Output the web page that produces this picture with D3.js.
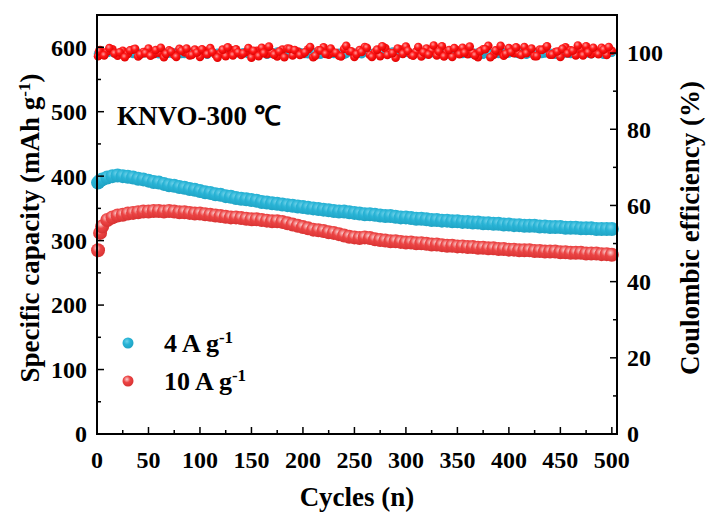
<script src='https://d3js.org/d3.v7.min.js'></script>
<body style="margin:0;background:#fff">
<script>
  // cycle numbers sampled from the record
  const cycles = [1, 3, 5, 10, 15, 20, 25, 30, 35, 40, 45, 50, 55, 60, 65, 70, 75, 80, 85, 90, 95, 100,
    105, 110, 115, 120, 125, 130, 135, 140, 145, 150, 155, 160, 165, 170, 175, 180, 185, 190, 195, 200,
    205, 210, 215, 220, 225, 230, 235, 240, 245, 250, 255, 260, 265, 270, 275, 280, 285, 290, 295, 300,
    305, 310, 315, 320, 325, 330, 335, 340, 345, 350, 355, 360, 365, 370, 375, 380, 385, 390, 395, 400,
    405, 410, 415, 420, 425, 430, 435, 440, 445, 450, 455, 460, 465, 470, 475, 480, 485, 490, 495, 500];
  // extra cycles used for the efficiency scatter
  const cyclesMid = [2, 7, 12, 17, 22, 27, 32, 37, 42, 47, 52, 57, 62, 67, 72, 77, 82, 87, 92, 97,
    102, 107, 112, 117, 122, 127, 132, 137, 142, 147, 152, 157, 162, 167, 172, 177, 182, 187, 192, 197,
    202, 207, 212, 217, 222, 227, 232, 237, 242, 247, 252, 257, 262, 267, 272, 277, 282, 287, 292, 297,
    302, 307, 312, 317, 322, 327, 332, 337, 342, 347, 352, 357, 362, 367, 372, 377, 382, 387, 392, 397,
    402, 407, 412, 417, 422, 427, 432, 437, 442, 447, 452, 457, 462, 467, 472, 477, 482, 487, 492, 497];

  // specific capacity, mAh g-1
  const cap4 = [390, 393, 395, 398, 400, 401, 400, 399, 398, 396, 395, 393, 391, 390, 388, 386, 385, 383, 382, 380, 379, 377,
    375, 374, 372, 371, 369, 368, 366, 365, 364, 363, 362, 360, 359, 358, 357, 356, 355, 354, 353, 352,
    351, 350, 349, 348, 347, 346, 345, 345, 344, 343, 342, 341, 341, 340, 339, 338, 338, 337, 336, 336,
    335, 334, 334, 333, 332, 332, 331, 331, 330, 330, 329, 329, 328, 328, 327, 327, 326, 326, 325, 325,
    324, 324, 323, 323, 323, 322, 322, 321, 321, 321, 320, 320, 320, 319, 319, 319, 318, 318, 318, 318];
  const cap10 = [285, 312, 322, 332, 336, 339, 340, 342, 343, 344, 345, 345, 346, 346, 345, 346, 345, 344, 344, 343, 342, 342,
    341, 340, 339, 338, 337, 336, 336, 335, 334, 333, 333, 332, 331, 330, 330, 329, 327, 325, 323, 321,
    319, 317, 316, 315, 313, 312, 310, 308, 306, 305, 304, 305, 304, 302, 301, 300, 299, 299, 298, 297,
    297, 296, 296, 295, 294, 294, 293, 292, 292, 291, 291, 290, 290, 289, 289, 288, 288, 287, 287, 286,
    286, 285, 285, 285, 284, 284, 283, 283, 283, 282, 282, 281, 281, 281, 280, 280, 280, 279, 279, 278];

  // coulombic efficiency, %
  const ce4 = [99.8, 100.2, 99.9, 100.1, 100.3, 99.7, 100.0, 100.2, 99.8, 100.1, 99.9, 100.3, 100.0, 99.7, 100.2, 99.9, 100.1, 100.4, 99.8, 100.0,
    100.2, 99.6, 100.1, 100.3, 99.9, 100.0, 99.7, 100.2, 100.1, 99.8, 100.3, 99.9, 100.0, 100.2, 99.6, 100.1, 100.4, 99.8, 100.0, 99.9,
    100.2, 100.1, 99.7, 100.3, 99.9, 100.0, 100.2, 99.8, 100.1, 99.6, 100.3, 100.0, 99.9, 100.2, 99.7, 100.1, 100.4, 99.8, 100.0, 100.2,
    99.9, 100.1, 99.6, 100.3, 100.0, 99.8, 100.2, 99.9, 100.1, 99.7, 100.4, 100.0, 99.8, 100.2, 99.9, 100.1, 99.6, 100.3, 100.0, 99.8,
    100.2, 99.9, 100.1, 99.7, 100.3, 100.0, 99.8, 100.2, 99.9, 100.1, 99.6, 100.4, 100.0, 99.8, 100.2, 99.9, 100.1, 99.7, 100.3, 100.0,
    99.8, 100.1];
  const ce10 = [99.2, 100.8, 99.6, 100.4, 101.0, 99.3, 100.6, 99.8, 100.9, 99.1, 100.3, 101.2, 99.7, 100.1, 98.9, 100.7, 99.5, 101.1, 100.2, 99.4,
    100.9, 99.0, 100.5, 101.3, 99.6, 100.0, 99.2, 100.8, 101.0, 99.5, 100.3, 98.8, 100.6, 101.4, 99.7, 100.2, 99.1, 100.9, 101.2, 99.4,
    100.4, 99.8, 101.0, 98.9, 100.7, 101.5, 99.6, 100.1, 99.3, 101.1, 100.5, 99.0, 100.8, 101.6, 99.5, 100.3, 99.2, 101.3, 100.0, 98.8,
    100.9, 101.7, 99.6, 100.4, 99.1, 101.2, 100.6, 99.4, 101.8, 100.2, 99.0, 100.7, 101.4, 99.7, 100.1, 98.9, 101.0, 101.9, 99.5, 100.5,
    99.3, 101.3, 100.0, 99.8, 101.6, 100.4, 99.2, 100.9, 101.2, 99.6, 100.3, 99.0, 101.5, 100.7, 99.4, 101.0, 101.8, 99.7, 100.2, 101.4,
    99.5, 100.6];
  const ce4Mid = [100.0, 99.8, 100.2, 99.9, 100.1, 99.7, 100.3, 100.0, 99.8, 100.2, 99.9, 100.1, 100.4, 99.7, 100.0, 100.2, 99.8, 100.1, 99.9, 100.3,
    100.0, 99.6, 100.2, 100.1, 99.8, 100.3, 99.9, 100.0, 100.2, 99.7, 100.1, 99.9, 100.4, 99.8, 100.0, 100.2, 99.7, 100.1, 99.9, 100.3,
    99.8, 100.0, 100.2, 99.6, 100.1, 100.3, 99.9, 100.0, 99.8, 100.2, 100.1, 99.7, 100.3, 100.0, 99.9, 100.2, 99.8, 100.4, 100.0, 99.9,
    100.2, 99.8, 100.1, 99.6, 100.3, 100.0, 99.9, 100.2, 99.7, 100.1, 100.0, 100.3, 99.8, 100.1, 99.9, 100.4, 99.7, 100.0, 100.2, 99.8,
    100.1, 99.9, 100.2, 99.6, 100.0, 100.3, 99.8, 100.1, 99.9, 100.2, 99.7, 100.0, 100.4, 99.8, 100.1, 99.9, 100.2, 100.0, 99.6, 100.3];
  const ce10Mid = [100.5, 99.4, 101.3, 99.9, 100.2, 98.9, 100.7, 101.1, 99.6, 100.0, 99.3, 100.8, 101.4, 99.8, 100.4, 99.0, 100.6, 101.2, 99.5, 100.1,
    101.0, 99.7, 100.3, 98.8, 100.9, 101.5, 99.4, 100.2, 99.9, 101.3, 100.6, 99.2, 100.0, 101.7, 99.6, 100.4, 98.9, 101.1, 100.8, 99.5,
    100.2, 101.6, 99.3, 100.7, 99.8, 101.2, 100.1, 99.1, 101.9, 100.5, 99.7, 100.3, 101.4, 99.0, 100.9, 101.8, 99.5, 100.0, 101.2, 99.8,
    100.6, 99.3, 101.6, 100.2, 99.6, 102.0, 100.4, 99.1, 100.8, 101.3, 99.7, 100.1, 101.7, 99.4, 100.5, 101.0, 98.9, 100.7, 101.9, 99.8,
    100.3, 101.5, 99.5, 100.0, 101.2, 99.2, 100.8, 101.8, 99.6, 100.4, 101.1, 99.9, 100.6, 102.0, 99.4, 100.2, 101.4, 99.7, 100.9, 101.6];

  const xTicks = [0, 50, 100, 150, 200, 250, 300, 350, 400, 450, 500];
  const capTicks = [0, 100, 200, 300, 400, 500, 600];
  const ceTicks = [0, 20, 40, 60, 80, 100];

  const width = 708, height = 519;
  const margin = {left: 97, top: 15, right: 91, bottom: 85};
  const font = "'Liberation Serif', 'Times New Roman', serif";

  const x = d3.scaleLinear().domain([0, 505]).range([margin.left, width - margin.right]);
  const yCap = d3.scaleLinear().domain([0, 650]).range([height - margin.bottom, margin.top]);
  const yCe = d3.scaleLinear().domain([0, 110]).range([height - margin.bottom, margin.top]);

  const svg = d3.select("body").append("svg")
    .attr("width", width)
    .attr("height", height)
    .style("font-family", font)
    .style("font-weight", "bold");

  const defs = svg.append("defs");
  function ball(id, light, main, dark) {
    const g = defs.append("radialGradient").attr("id", id)
      .attr("cx", "40%").attr("cy", "35%").attr("r", "65%");
    g.append("stop").attr("offset", "0%").attr("stop-color", light);
    g.append("stop").attr("offset", "45%").attr("stop-color", main);
    g.append("stop").attr("offset", "100%").attr("stop-color", dark);
  }
  ball("redCap", "#fbd0d0", "#ec4545", "#d83232");
  ball("redCe", "#ff9a9a", "#ff1a1a", "#e00000");
  ball("cyan", "#6fd2ea", "#29b4d6", "#1fa3c4");

  const plot = svg.append("g");
  const r = 4.3;

  function scatter(xs, ys, scale, rad, fill) {
    plot.append("g").selectAll("circle").data(xs).enter().append("circle")
      .attr("cx", d => x(d))
      .attr("cy", (d, i) => scale(ys[i]))
      .attr("r", rad)
      .attr("fill", fill);
  }
  // coulombic efficiency
  scatter(cycles, ce4, yCe, r, "url(#cyan)");
  scatter(cyclesMid, ce4Mid, yCe, r, "url(#cyan)");
  scatter(cycles, ce10, yCe, r, "url(#redCe)");
  scatter(cyclesMid, ce10Mid, yCe, r, "url(#redCe)");

  // capacity
  scatter(cycles, cap4, yCap, 7, "url(#cyan)");
  scatter(cycles, cap10, yCap, 7, "url(#redCap)");

  // frame
  svg.append("rect")
    .attr("x", margin.left).attr("y", margin.top)
    .attr("width", width - margin.left - margin.right)
    .attr("height", height - margin.top - margin.bottom)
    .attr("fill", "none").attr("stroke", "#000").attr("stroke-width", 2);

  const bottom = height - margin.bottom;
  const left = margin.left, right = width - margin.right;

  // x axis ticks (inward)
  const xMinor = d3.range(25, 505, 50);
  svg.selectAll(".xt").data(xTicks).enter().append("line")
    .attr("x1", d => x(d)).attr("x2", d => x(d))
    .attr("y1", bottom).attr("y2", bottom - 7)
    .attr("stroke", "#000").attr("stroke-width", 1.5);
  svg.selectAll(".xm").data(xMinor).enter().append("line")
    .attr("x1", d => x(d)).attr("x2", d => x(d))
    .attr("y1", bottom).attr("y2", bottom - 4)
    .attr("stroke", "#000").attr("stroke-width", 1.5);
  svg.selectAll(".xl").data(xTicks).enter().append("text")
    .attr("x", d => x(d)).attr("y", bottom + 34)
    .attr("text-anchor", "middle")
    .attr("font-size", 24)
    .text(d => d);

  // left axis
  const capMinor = d3.range(50, 650, 100);
  svg.selectAll(".lt").data(capTicks).enter().append("line")
    .attr("x1", left).attr("x2", left + 7)
    .attr("y1", d => yCap(d)).attr("y2", d => yCap(d))
    .attr("stroke", "#000").attr("stroke-width", 1.5);
  svg.selectAll(".lm").data(capMinor).enter().append("line")
    .attr("x1", left).attr("x2", left + 4)
    .attr("y1", d => yCap(d)).attr("y2", d => yCap(d))
    .attr("stroke", "#000").attr("stroke-width", 1.5);
  svg.selectAll(".ll").data(capTicks).enter().append("text")
    .attr("x", left - 10).attr("y", d => yCap(d))
    .attr("dy", "0.35em")
    .attr("text-anchor", "end")
    .attr("font-size", 24)
    .text(d => d);

  // right axis
  const ceMinor = d3.range(10, 110, 20);
  svg.selectAll(".rt").data(ceTicks).enter().append("line")
    .attr("x1", right).attr("x2", right - 7)
    .attr("y1", d => yCe(d)).attr("y2", d => yCe(d))
    .attr("stroke", "#000").attr("stroke-width", 1.5);
  svg.selectAll(".rm").data(ceMinor).enter().append("line")
    .attr("x1", right).attr("x2", right - 4)
    .attr("y1", d => yCe(d)).attr("y2", d => yCe(d))
    .attr("stroke", "#000").attr("stroke-width", 1.5);
  svg.selectAll(".rl").data(ceTicks).enter().append("text")
    .attr("x", right + 10).attr("y", d => yCe(d))
    .attr("dy", "0.35em")
    .attr("text-anchor", "start")
    .attr("font-size", 24)
    .text(d => d);

  // axis titles
  svg.append("text")
    .attr("x", (left + right) / 2).attr("y", 506)
    .attr("text-anchor", "middle")
    .attr("font-size", 27)
    .text("Cycles (n)");

  const lt = svg.append("text")
    .attr("transform", "translate(39,228) rotate(-90)")
    .attr("text-anchor", "middle")
    .attr("font-size", 27);
  lt.append("tspan").text("Specific capacity (mAh g");
  lt.append("tspan").attr("baseline-shift", "super").attr("font-size", 17).text("-1");
  lt.append("tspan").text(")");

  svg.append("text")
    .attr("transform", "translate(699,228) rotate(-90)")
    .attr("text-anchor", "middle")
    .attr("font-size", 27)
    .text("Coulombic efficiency (%)");

  // sample label
  svg.append("text")
    .attr("x", 117).attr("y", 125)
    .attr("font-size", 27)
    .text("KNVO-300 \u2103");

  // legend
  const legend = [
    {label: "4 A g", fill: "url(#cyan)"},
    {label: "10 A g", fill: "url(#redCap)"}
  ];
  const lg = svg.selectAll(".lg").data(legend).enter().append("g")
    .attr("transform", (d, i) => "translate(128," + (343 + i * 38) + ")");
  lg.append("circle").attr("r", 5.5).attr("fill", d => d.fill);
  const lgt = lg.append("text").attr("x", 36).attr("y", 9).attr("font-size", 26);
  lgt.append("tspan").text(d => d.label);
  lgt.append("tspan").attr("baseline-shift", "super").attr("font-size", 17).text("-1");
</script>
</body>
